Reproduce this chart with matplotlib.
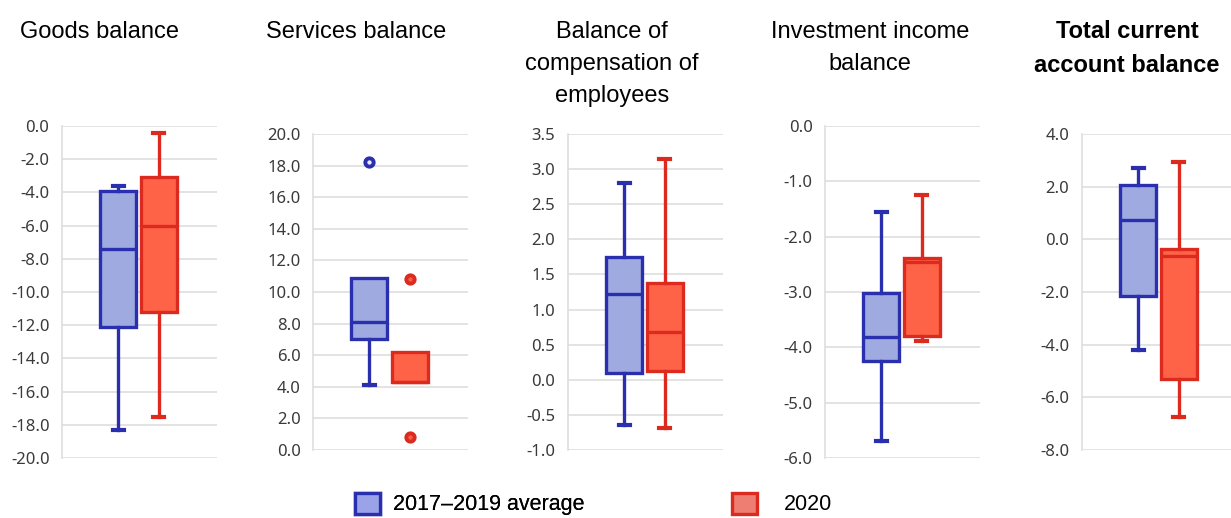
"""Current account balance components: 2017-2019 average vs 2020 box plots."""
import matplotlib
matplotlib.use("Agg")
import numpy as np
import matplotlib.pyplot as plt
from matplotlib.patches import Patch
from matplotlib.ticker import FormatStrFormatter

plt.rcParams["axes.unicode_minus"] = False
plt.rcParams["font.family"] = ["Noto Sans", "DejaVu Sans"]

titles = ["Goods balance", "Services balance", "Balance of\ncompensation of\nemployees",
          "Investment income\nbalance", "Total current\naccount balance"]
bold_title = [False, False, False, False, True]

# 2017-2019 average
avg_low = [-18.3, 4.1, -0.64, -5.7, -4.2]
avg_q1 = [-12.1, 7.0, 0.1, -4.25, -2.15]
avg_med = [-7.4, 8.1, 1.22, -3.82, 0.75]
avg_q3 = [-3.9, 10.9, 1.75, -3.02, 2.05]
avg_high = [-3.6, 10.9, 2.8, -1.55, 2.7]
avg_out = [[], [18.2], [], [], []]

# 2020
y20_low = [-17.5, 4.3, -0.68, -3.88, -6.75]
y20_q1 = [-11.2, 4.3, 0.13, -3.8, -5.3]
y20_med = [-6.0, 4.3, 0.68, -2.45, -0.65]
y20_q3 = [-3.1, 6.2, 1.38, -2.38, -0.35]
y20_high = [-0.4, 6.2, 3.15, -1.25, 2.95]
y20_out = [[], [10.8, 0.8], [], [], []]

y_min = [-20, 0, -1, -6, -8]
y_max = [0, 20, 3.5, 0, 4]
y_step = [2, 2, 0.5, 1, 2]

BLUE_EDGE, BLUE_FACE = "#2a2fae", "#9eaae0"
RED_EDGE, RED_FACE = "#dc2a1e", "#ff6347"

W, H = 1231, 518
fig = plt.figure(figsize=(W / 100, H / 100), dpi=100)

ax_left = [62, 313, 568, 825, 1082]
ax_top = [126, 134, 134, 126, 134]
ax_bot = [458, 450, 450, 458, 450]
title_x = [99, 356, 612, 870, 1127]


def stats(lo, q1, med, q3, hi, out):
    return dict(whislo=lo, q1=q1, med=med, q3=q3, whishi=hi, fliers=out)


for i in range(5):
    ax = fig.add_axes([ax_left[i] / W, 1 - ax_bot[i] / H, 155 / W,
                       (ax_bot[i] - ax_top[i]) / H])
    for pos, st, ec, fc, mfc in [
        (1, stats(avg_low[i], avg_q1[i], avg_med[i], avg_q3[i], avg_high[i], avg_out[i]),
         BLUE_EDGE, BLUE_FACE, "#e8eaf8"),
        (2, stats(y20_low[i], y20_q1[i], y20_med[i], y20_q3[i], y20_high[i], y20_out[i]),
         RED_EDGE, RED_FACE, "#f06050"),
    ]:
        art = ax.bxp([st], positions=[pos], widths=0.9, capwidths=0.26, patch_artist=True,
                     boxprops=dict(facecolor=fc, edgecolor=ec, linewidth=2.4),
                     medianprops=dict(color=ec, linewidth=2.4),
                     whiskerprops=dict(color=ec, linewidth=2.4),
                     capprops=dict(color=ec, linewidth=3.0),
                     flierprops=dict(marker="o", markerfacecolor=mfc, markeredgecolor=ec,
                                     markeredgewidth=2.8, markersize=6),
                     zorder=3)
        # no cap when the whisker has zero length
        if st["whislo"] == st["q1"]:
            art["caps"][0].set_visible(False)
        if st["whishi"] == st["q3"]:
            art["caps"][1].set_visible(False)
    ax.set_xlim(-0.4, 3.45)
    ax.set_ylim(y_min[i], y_max[i])
    ax.set_yticks(np.arange(y_min[i], y_max[i] + y_step[i] / 2, y_step[i]))
    ax.yaxis.set_major_formatter(FormatStrFormatter("%.1f"))
    ax.set_xticks([])
    ax.grid(axis="y", color="#dedede", linewidth=1.2, zorder=0)
    for s in ["top", "right", "bottom"]:
        ax.spines[s].set_visible(False)
    ax.spines["left"].set_color("#dedede")
    ax.spines["left"].set_linewidth(1.2)
    ax.tick_params(axis="y", length=0, pad=9, labelsize=12, labelcolor="#3a3a3a")
    ax.set_axisbelow(True)

    fig.text(title_x[i] / W, 1 - 20.5 / H, titles[i], ha="center", va="top",
             fontsize=17, family="Liberation Sans", linespacing=1.6,
             fontweight="bold" if bold_title[i] else "normal")

leg_font = dict(family="Liberation Sans", size=15.5)
leg1 = fig.legend(handles=[Patch(facecolor="#9aa2e8", edgecolor=BLUE_EDGE, linewidth=2.4,
                                 label="2017\u20132019 average")],
                  loc="center left", bbox_to_anchor=(355 / W, 1 - 504 / H), frameon=False,
                  handlelength=1.15, handleheight=1.15, handletextpad=0.6,
                  borderpad=0, borderaxespad=0, prop=leg_font)
fig.legend(handles=[Patch(facecolor="#ee7d72", edgecolor=RED_EDGE, linewidth=2.4,
                          label="2020")],
           loc="center left", bbox_to_anchor=(732 / W, 1 - 504 / H), frameon=False,
           handlelength=1.15, handleheight=1.15, handletextpad=1.25,
           borderpad=0, borderaxespad=0, prop=leg_font)
fig.add_artist(leg1)

fig.savefig("out.png", dpi=100)
